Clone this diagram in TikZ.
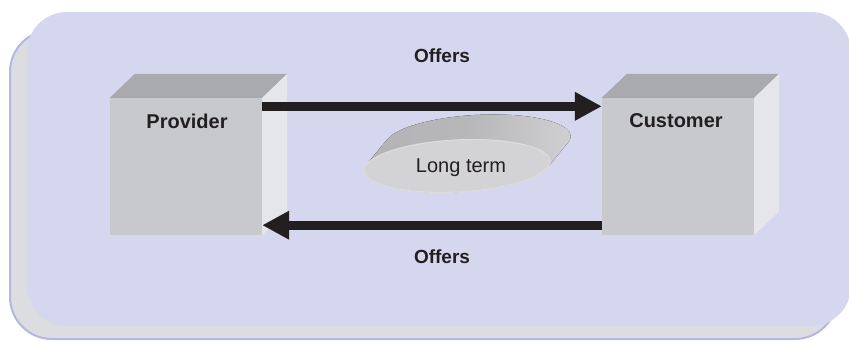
\documentclass[tikz,border=0pt]{standalone}
\usepackage{fontspec}
\setmainfont{Liberation Sans}
\usetikzlibrary{arrows.meta,calc}

\definecolor{panelfront}{HTML}{D5D7EE}
\definecolor{panelback}{HTML}{DCDDE1}
\definecolor{panelrim}{HTML}{B3B8E2}
\definecolor{boxfront}{HTML}{C8C9CC}
\definecolor{boxtop}{HTML}{A9AAAE}
\definecolor{boxside}{HTML}{E5E6E9}
\definecolor{ink}{HTML}{231F20}
\definecolor{discdark}{HTML}{B4B4B7}
\definecolor{disclight}{HTML}{D2D2D4}
\definecolor{discface}{HTML}{D3D3D6}
\definecolor{discrim}{HTML}{DCDCDF}

\tikzset{
  partyface/.style={rectangle, fill=boxfront, draw=none, minimum width=152bp,
    minimum height=137bp, inner sep=0pt},
  partytop/.style={fill=boxtop, draw=none},
  partyside/.style={fill=boxside, draw=none},
  partylabel/.style={font=\fontsize{20bp}{24bp}\selectfont\bfseries, text=ink, inner sep=0pt},
  flowlabel/.style={font=\fontsize{19bp}{23bp}\selectfont\bfseries, text=ink, inner sep=0pt},
  flow/.style={draw=ink, line width=9bp,
    -{Triangle[length=27bp,width=27bp]}},
  discbody/.style={left color=discdark, right color=disclight, middle color=discdark!90!disclight},
  discarc/.style={x radius=93, y radius=26},
}

\begin{document}
\begin{tikzpicture}[x=1bp,y=-1bp]
\useasboundingbox (0,0) rectangle (849,340);

% stacked background panels
\draw[panelrim, fill=panelback, line width=2bp, rounded corners=42bp]
  (10,30) rectangle (837,339);
\fill[panelfront, rounded corners=40bp] (27,12) rectangle (851,326);

% the two parties as boxes
\node[partyface] (prov) at (186,166.5) {};
\node[partyface] (cust) at (678,166.5) {};
\foreach \b in {prov,cust}{
  \fill[partytop] (\b.north west) -- ++(25,-24) -- ($(\b.north east)+(25,-24)$)
    -- (\b.north east) -- cycle;
  \fill[partyside] (\b.north east) -- ++(25,-24) -- ($(\b.south east)+(25,-24)$)
    -- (\b.south east) -- cycle;
}
\node[partylabel] (provlbl) at (187,121) {Provider};
\node[partylabel] (custlbl) at (676,121) {Customer};

% the "Long term" disc, extruded towards the upper right
\begin{scope}[rotate around={3:(457,166)}]
  \fill[discbody] (547.1,172.45) arc[start angle=14.37, end angle=194.37, discarc]
    -- ++(22,-24) arc[start angle=194.37, end angle=374.37, discarc] -- cycle;
  \draw[discrim, fill=discface, line width=1.2bp] (457,166) ellipse [discarc];
\end{scope}
\node[font=\fontsize{20bp}{24bp}\selectfont, text=ink, inner sep=0pt] (term) at (461,168) {Long term};

% offers flowing both ways
\draw[flow] ($(prov.north east)+(0,8.5)$) -- ($(cust.north west)+(0,8.5)$);
\draw[flow] ($(cust.south west)+(0,-10)$) -- ($(prov.south east)+(0,-10)$);
\node[flowlabel] (offtop) at (442,56) {Offers};
\node[flowlabel] (offbot) at (442,257) {Offers};
\end{tikzpicture}
\end{document}
